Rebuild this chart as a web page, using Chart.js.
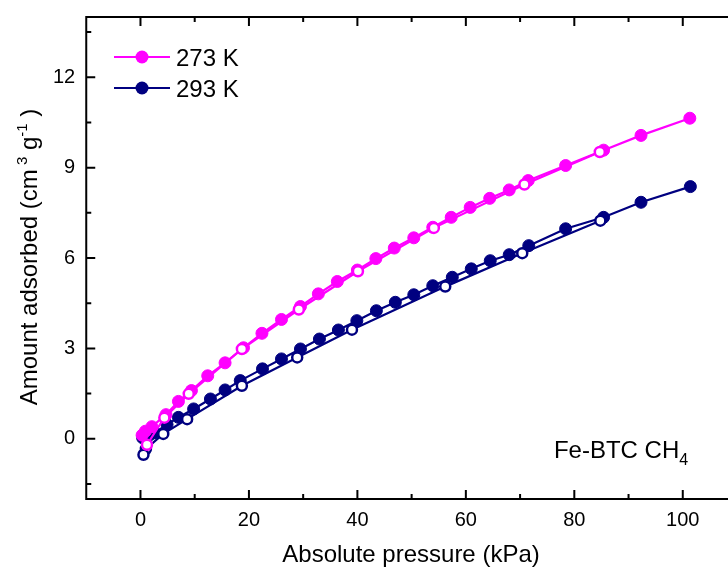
<!DOCTYPE html>
<html>
<head>
<meta charset="utf-8">
<script src="https://cdn.jsdelivr.net/npm/chart.js@4.4.1/dist/chart.umd.min.js"></script>
<style>
  html, body { margin: 0; padding: 0; background: #fff; overflow: hidden; }
  #wrap { width: 728px; height: 570px; overflow: hidden; }
  canvas { display: block; }
</style>
</head>
<body>
<div id="wrap"><canvas id="chart" width="745" height="570"></canvas></div>
<script>
// 273 K adsorption (filled) / desorption (open)
const p273Ads = [0.3, 0.9, 2.1, 4.7, 7.0, 9.4, 12.4, 15.6, 19.0, 22.4, 26.0, 29.5, 32.8, 36.3, 40.0, 43.4, 46.8, 50.4, 53.9, 57.3, 60.8, 64.4, 68.0, 71.5, 78.4, 85.4, 92.3, 101.3];
const v273Ads = [0.12, 0.25, 0.40, 0.80, 1.24, 1.60, 2.09, 2.52, 3.02, 3.50, 3.96, 4.39, 4.81, 5.22, 5.60, 5.98, 6.33, 6.67, 7.02, 7.35, 7.68, 7.98, 8.26, 8.57, 9.07, 9.58, 10.07, 10.64];
const p273Des = [84.7, 70.8, 54.1, 40.1, 29.2, 18.7, 8.9, 4.4, 1.2];
const v273Des = [9.52, 8.44, 7.00, 5.56, 4.29, 2.98, 1.49, 0.70, -0.20];

// 293 K adsorption (filled) / desorption (open)
const p293Ads = [0.4, 1.0, 1.7, 2.6, 4.9, 7.0, 9.8, 12.9, 15.6, 18.4, 22.5, 26.0, 29.5, 33.0, 36.5, 39.9, 43.5, 47.0, 50.4, 53.9, 57.5, 61.0, 64.5, 68.0, 71.6, 78.4, 85.4, 92.3, 101.4];
const v293Ads = [0.03, 0.08, 0.13, 0.20, 0.47, 0.71, 0.99, 1.32, 1.62, 1.93, 2.32, 2.65, 2.98, 3.31, 3.61, 3.92, 4.25, 4.53, 4.78, 5.08, 5.36, 5.64, 5.91, 6.11, 6.41, 6.97, 7.35, 7.85, 8.37];
const p293Des = [84.8, 70.4, 56.2, 39.0, 28.9, 18.7, 8.6, 4.2, 1.0, 0.55];
const v293Des = [7.24, 6.16, 5.05, 3.62, 2.70, 1.76, 0.65, 0.16, -0.34, -0.53];

const xTicks = [0, 20, 40, 60, 80, 100];
const yTicks = [0, 3, 6, 9, 12];
const xMinor = [10, 30, 50, 70, 90];
const yMinor = [-1.5, 1.5, 4.5, 7.5, 10.5, 13.5];

const MAGENTA = "#ff00ff";
const NAVY = "#000080";
const FONT = "Arial, 'Liberation Sans', sans-serif";

const toPoints = (xs, ys) => xs.map((x, i) => ({ x: x, y: ys[i] }));

function filled(data, color) {
  return {
    data: data, showLine: true, borderColor: color, borderWidth: 2.2,
    pointRadius: 6, pointBackgroundColor: color, pointBorderColor: color, pointBorderWidth: 1
  };
}
function open(data, color) {
  return {
    data: data, showLine: true, borderColor: color, borderWidth: 2.2,
    pointRadius: 5, pointBackgroundColor: "#fff", pointBorderColor: color, pointBorderWidth: 2.5
  };
}

// draw a string made of runs with different sizes / vertical offsets
function drawRuns(ctx, runs, x, y) {
  let total = 0;
  runs.forEach((r) => { ctx.font = r.size + "px " + FONT; total += ctx.measureText(r.t).width; });
  let cx = x - total / 2;
  runs.forEach((r) => {
    ctx.font = r.size + "px " + FONT;
    ctx.fillText(r.t, cx, y + r.dy);
    cx += ctx.measureText(r.t).width;
  });
}

const decor = {
  id: "decor",
  afterDraw(chart) {
    const { ctx, chartArea: a, scales: { x, y } } = chart;
    ctx.save();
    ctx.strokeStyle = "#000";
    ctx.lineWidth = 2;
    ctx.strokeRect(a.left, a.top, a.right - a.left, a.bottom - a.top);

    ctx.beginPath();
    const xt = (v, len) => {
      const px = x.getPixelForValue(v);
      ctx.moveTo(px, a.bottom); ctx.lineTo(px, a.bottom - len);
      ctx.moveTo(px, a.top); ctx.lineTo(px, a.top + len);
    };
    const yt = (v, len) => {
      const py = y.getPixelForValue(v);
      ctx.moveTo(a.left, py); ctx.lineTo(a.left + len, py);
      ctx.moveTo(a.right, py); ctx.lineTo(a.right - len, py);
    };
    xTicks.forEach((v) => xt(v, 9));
    xMinor.forEach((v) => xt(v, 5));
    yTicks.forEach((v) => yt(v, 9));
    yMinor.forEach((v) => yt(v, 5));
    ctx.stroke();

    ctx.fillStyle = "#000";
    ctx.textBaseline = "alphabetic";

    // x title
    drawRuns(ctx, [{ t: "Absolute pressure (kPa)", size: 24, dy: 0 }], 411, 562);

    // y title
    ctx.save();
    ctx.translate(37, 257);
    ctx.rotate(-Math.PI / 2);
    drawRuns(ctx, [
      { t: "Amount adsorbed (cm", size: 24, dy: 0 },
      { t: " 3", size: 15, dy: -10 },
      { t: " g", size: 24, dy: 0 },
      { t: "-1", size: 15, dy: -10 },
      { t: " )", size: 24, dy: 0 }
    ], 0, 0);
    ctx.restore();

    // annotation
    drawRuns(ctx, [
      { t: "Fe-BTC CH", size: 24, dy: 0 },
      { t: "4", size: 16, dy: 7 }
    ], 621, 458);

    // legend
    const items = [["273 K", MAGENTA, 57], ["293 K", NAVY, 88]];
    items.forEach(([label, color, ly]) => {
      ctx.strokeStyle = color;
      ctx.lineWidth = 2.2;
      ctx.beginPath();
      ctx.moveTo(114, ly); ctx.lineTo(170, ly);
      ctx.stroke();
      ctx.fillStyle = color;
      ctx.beginPath();
      ctx.arc(142, ly, 6.5, 0, Math.PI * 2);
      ctx.fill();
      ctx.fillStyle = "#000";
      ctx.font = "24px " + FONT;
      ctx.fillText(label, 176, ly + 8.6);
    });
    ctx.restore();
  }
};

new Chart(document.getElementById("chart"), {
  type: "scatter",
  data: {
    datasets: [
      open(toPoints(p273Des, v273Des), MAGENTA),
      open(toPoints(p293Des, v293Des), NAVY),
      filled(toPoints(p273Ads, v273Ads), MAGENTA),
      filled(toPoints(p293Ads, v293Ads), NAVY)
    ]
  },
  options: {
    responsive: false,
    animation: false,
    devicePixelRatio: 1,
    layout: { padding: { left: 50, right: 8, top: 17, bottom: 37 } },
    plugins: { legend: { display: false }, tooltip: { enabled: false } },
    scales: {
      x: {
        min: -10, max: 110,
        grid: { display: false },
        border: { display: false },
        afterBuildTicks: (s) => { s.ticks = xTicks.map((v) => ({ value: v })); },
        ticks: { font: { family: FONT, size: 20 }, color: "#000", padding: 1, maxRotation: 0 }
      },
      y: {
        min: -2, max: 14,
        grid: { display: false },
        border: { display: false },
        afterBuildTicks: (s) => { s.ticks = yTicks.map((v) => ({ value: v })); },
        ticks: { font: { family: FONT, size: 20, lineHeight: 0.6 }, color: "#000", padding: 3 }
      }
    }
  },
  plugins: [decor]
});
</script>
</body>
</html>
